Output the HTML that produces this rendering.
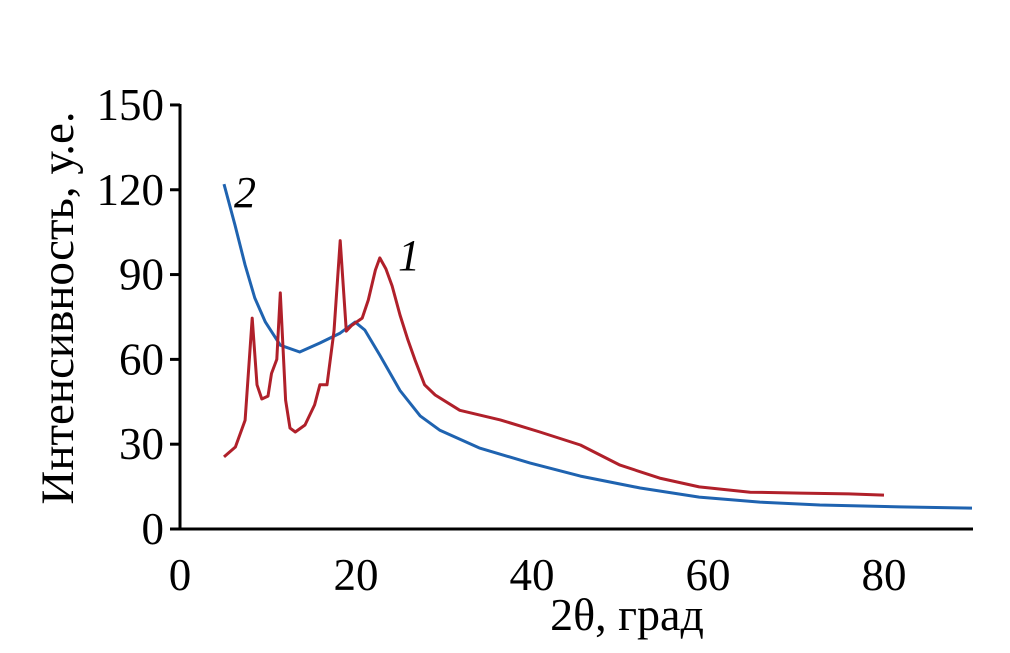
<!DOCTYPE html>
<html><head><meta charset="utf-8">
<style>
body{margin:0;background:#fff;}
svg{display:block;font-family:"Liberation Serif",serif;}
</style></head>
<body>
<svg id="chart" width="1010" height="653">
</svg>
<script>
const xTicks=[0,20,40,60,80];
const yTicks=[0,30,60,90,120,150];
const s1x=[5,6.3,7.4,8.2,8.75,9.3,10,10.4,11,11.4,12,12.5,13.1,14.2,15.3,15.9,16.7,17.5,18.2,18.9,19.5,20.7,21.4,22.2,22.7,23.4,24.1,25,25.9,26.7,27.8,29,31.8,36.4,40.9,45.5,50,54.5,59,64.8,70.5,76,80];
const s1y=[25.5,29,38.5,74.6,51,46,47,55,60,83.5,45.6,35.7,34.3,36.8,43.9,51,51,70,102,70,72,74.6,81,91.6,95.9,92,86,75.7,66.9,59.8,51,47.4,42,38.6,34.3,29.7,22.6,18,14.9,13,12.7,12.4,12];
const s2x=[5,6.25,7.4,8.5,9.7,11.4,13.6,15.9,18.2,19.9,21,22.7,25,27.3,29.5,34,39.8,45.5,52.3,59,65.9,72.7,81.8,90];
const s2y=[122,107.5,93.4,81.7,73.2,65,62.6,65.8,69.3,73.2,70.4,61.5,49,40,35,28.7,23.3,18.7,14.5,11.3,9.5,8.5,7.8,7.4];

const X=v=>180+v*8.8;
const Y=v=>529-v*2.827;
const svg=document.getElementById('chart');
const NS='http://www.w3.org/2000/svg';
function mk(tag,attrs,parent){const e=document.createElementNS(NS,tag);for(const k in attrs)e.setAttribute(k,attrs[k]);(parent||svg).appendChild(e);return e;}

const yAxis=mk('line',{x1:180,y1:104,x2:180,y2:530,stroke:'#000','stroke-width':3});


const xAxis=mk('line',{x1:179,y1:529,x2:973,y2:529,stroke:'#000','stroke-width':3});



yTicks.forEach(v=>{
  const t=mk('line',{x1:170,y1:Y(v),x2:180,y2:Y(v),stroke:'#000','stroke-width':3});
  
  
  const l=mk('text',{x:164,y:Y(v)+15,'text-anchor':'end','font-size':45});
  l.textContent=v;
  
  
});
xTicks.forEach(v=>{
  const l=mk('text',{x:X(v),y:590,'text-anchor':'middle','font-size':45});
  l.textContent=v;
  
  
});
function line(xs,ys,color,name){
  const d=xs.map((x,i)=>(i?'L':'M')+X(x).toFixed(1)+','+Y(ys[i]).toFixed(1)).join(' ');
  const p=mk('path',{d:d,fill:'none',stroke:color,'stroke-width':3,'stroke-linejoin':'round'});
  
  
}
line(s2x,s2y,'#1f63b0','series-2-line');
line(s1x,s1y,'#b0202a','series-1-line');

const a2=mk('text',{x:234,y:207,'font-size':44,'font-style':'italic'});a2.textContent='2';


const a1=mk('text',{x:398,y:270,'font-size':44,'font-style':'italic'});a1.textContent='1';



const xt=mk('text',{x:627,y:630,'text-anchor':'middle','font-size':46});xt.textContent='2θ, град';


const yt=mk('text',{x:0,y:0,'text-anchor':'middle','font-size':47,transform:'translate(73,308) rotate(-90)'});yt.textContent='Интенсивность, у.е.';


</script>
</body></html>
